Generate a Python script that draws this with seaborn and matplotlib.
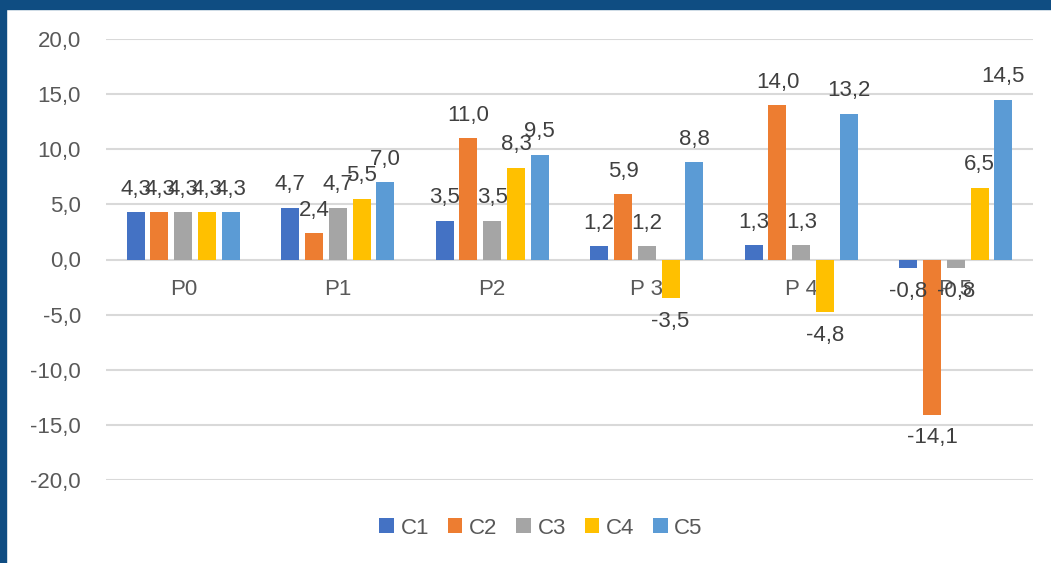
import pandas as pd
import matplotlib.pyplot as plt
import seaborn as sns
import numpy as np
from matplotlib.patches import Rectangle
from matplotlib.ticker import FuncFormatter, MultipleLocator

# Data
periods = ['P0', 'P1', 'P2', 'P 3', 'P 4', 'P 5']
series = ['C1', 'C2', 'C3', 'C4', 'C5']
c1 = [4.3, 4.7, 3.5, 1.2, 1.3, -0.8]
c2 = [4.3, 2.4, 11.0, 5.9, 14.0, -14.1]
c3 = [4.3, 4.7, 3.5, 1.2, 1.3, -0.8]
c4 = [4.3, 5.5, 8.3, -3.5, -4.8, 6.5]
c5 = [4.3, 7.0, 9.5, 8.8, 13.2, 14.5]

colors = ['#4472C4', '#ED7D31', '#A5A5A5', '#FFC000', '#5B9BD5']

rows = []
for name, vals in zip(series, [c1, c2, c3, c4, c5]):
    for p, v in zip(periods, vals):
        rows.append({'period': p, 'series': name, 'value': v})
df = pd.DataFrame(rows)

sns.set_style('white')
plt.rcParams['font.family'] = ['Liberation Sans', 'DejaVu Sans']

fig = plt.figure(figsize=(10.51, 5.63), dpi=100)
ax = fig.add_axes([106 / 1051, 1 - 480 / 563, (1033 - 106) / 1051, (480 - 39) / 563])

sns.barplot(data=df, x='period', y='value', hue='series', palette=colors,
            order=periods, hue_order=series, width=0.77, gap=0.24,
            saturation=1, linewidth=0, errorbar=None, ax=ax, legend=True)

comma = lambda v: f'{v:.1f}'.replace('.', ',')

# data labels at outside end
for cont in ax.containers:
    ax.bar_label(cont, fmt=comma, padding=9, fontsize=16, color='#404040')

ax.set_ylim(-20, 20)
ax.set_xlim(-0.5, len(periods) - 0.5)
ax.yaxis.set_major_locator(MultipleLocator(5))
ax.yaxis.set_major_formatter(FuncFormatter(lambda v, pos: comma(v)))
ax.grid(axis='y', color='#D9D9D9', linewidth=1.5)
ax.set_axisbelow(True)
for s in ax.spines.values():
    s.set_visible(False)
ax.spines['bottom'].set_position(('data', 0))
ax.tick_params(axis='y', length=0, pad=18, labelsize=16, labelcolor='#595959')
ax.tick_params(axis='x', length=0, pad=14, labelsize=16, labelcolor='#595959')
ax.set_xlabel('')
ax.set_ylabel('')

handles, labels = ax.get_legend_handles_labels()
ax.get_legend().remove()
fig.legend(handles, labels, loc='center', bbox_to_anchor=(541 / 1051, 1 - 528 / 563),
           ncol=5, frameon=False, fontsize=16, handlelength=0.65, handleheight=0.65,
           handletextpad=0.3, columnspacing=0.85, labelcolor='#595959')

# dark blue frame at top and left
fig.add_artist(Rectangle((0, 1 - 9 / 563), 1, 9 / 563, transform=fig.transFigure,
                         color='#0F4D82', zorder=10))
fig.add_artist(Rectangle((0, 0), 6 / 1051, 1, transform=fig.transFigure,
                         color='#0F4D82', zorder=10))

plt.savefig('out.png', dpi=100)
